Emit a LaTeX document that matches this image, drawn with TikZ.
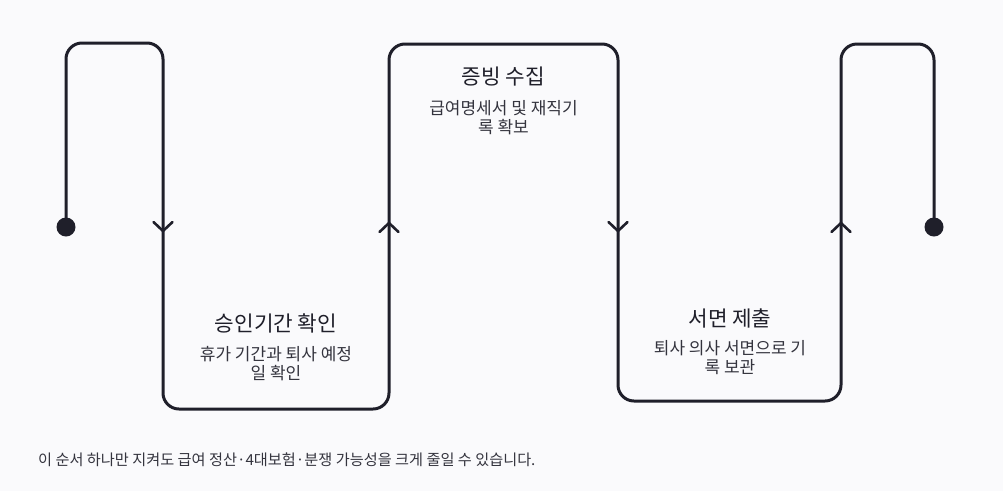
\documentclass[tikz,border=0pt]{standalone}
\usepackage{fontspec}
\setmainfont{Noto Sans CJK KR}
\usepackage{tikz}
\definecolor{ink}{RGB}{31,31,42}
\definecolor{paper}{RGB}{250,250,252}
\definecolor{subtxt}{RGB}{52,52,62}

\begin{document}
\begin{tikzpicture}[x=1pt, y=-1pt,
  flow/.style={draw=ink, line width=3pt, rounded corners=16pt, line join=round},
  chev/.style={draw=ink, line width=2.6pt, line cap=round},
  endpt/.style={circle, fill=ink, inner sep=0pt, minimum size=19pt},
  ttl/.style={font=\fontsize{21.3}{25}\selectfont, text=ink, inner sep=0pt},
  sub/.style={font=\fontsize{17}{19}\selectfont, text=subtxt, align=center, inner sep=0pt},
  note/.style={font=\fontsize{15.2}{18}\selectfont, text=subtxt, anchor=west, inner sep=0pt}
]
\path[fill=paper] (0,0) rectangle (1003,491);

\coordinate (c1) at (66,43);
\coordinate (c2) at (163,43);
\coordinate (c3) at (163,409);
\coordinate (c4) at (389,409);
\coordinate (c5) at (389,44);
\coordinate (c6) at (618,44);
\coordinate (c7) at (618,401);
\coordinate (c8) at (841,401);
\coordinate (c9) at (841,44);
\coordinate (c10) at (934,44);
\coordinate (m1) at (163,231);
\coordinate (m2) at (389,223);
\coordinate (m3) at (618,231);
\coordinate (m4) at (841,223);

\draw[flow] (66,227) coordinate (start) -- (c1) -- (c2) -- (c3) -- (c4) -- (c5) -- (c6)
  -- (c7) -- (c8) -- (c9) -- (c10) -- (934,227) coordinate (finish);
\node[endpt] (dot1) at (start) {};
\node[endpt] (dot2) at (finish) {};
\foreach \m/\d in {m1/1, m2/-1, m3/1, m4/-1}
  \draw[chev] (\m) ++(-9.5,-9*\d) -- (\m) -- ++(9.5,-9*\d);

\node[ttl] (t1) at (276,323) {승인기간 확인};
\node[sub] (s1) at (276,364) {휴가 기간과 퇴사 예정\\일 확인};
\node[ttl] (t2) at (503.5,77) {증빙 수집};
\node[sub] (s2) at (503.5,118) {급여명세서 및 재직기\\록 확보};
\node[ttl] (t3) at (730,318) {서면 제출};
\node[sub] (s3) at (730,357.5) {퇴사 의사 서면으로 기\\록 보관};
\node[note] (foot) at (38,460) {이 순서 하나만 지켜도 급여 정산·4대보험·분쟁 가능성을 크게 줄일 수 있습니다.};

\end{tikzpicture}
\end{document}
